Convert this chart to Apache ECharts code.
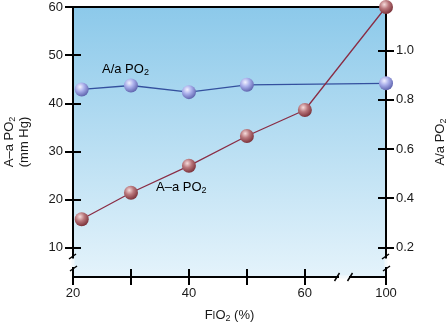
<!DOCTYPE html>
<html><head><meta charset="utf-8">
<script src="https://cdn.jsdelivr.net/npm/echarts@6/dist/echarts.min.js"></script>
<style>html,body{margin:0;padding:0;background:#fff}#c{width:447px;height:322px}</style>
</head><body><div id="c"></div>
<script>
// ---- data ----
const fio2Gradient = [21.5, 30, 40, 50, 60, 100];
const aaGradient = [15.9, 21.4, 27.0, 33.2, 38.6, 60];
const fio2Ratio = [21.5, 30, 40, 50, 100];
const aaRatio = [0.842, 0.858, 0.831, 0.861, 0.867];
const xTicks = [20, 30, 40, 50, 60, 100];
const xLabels = [20, 40, 60, 100];
const leftTicks = [10, 20, 30, 40, 50, 60];
const rightTicks = [0.2, 0.4, 0.6, 0.8, 1.0];

// broken x axis: values above 60 are compressed
const BREAK = 60, SQUEEZE = 0.35;
const toAxis = v => v <= BREAK ? v : BREAK + (v - BREAK) * SQUEEZE;
const fromAxis = a => a <= BREAK ? a : BREAK + (a - BREAK) / SQUEEZE;

const FONT = '"Liberation Sans", Arial, sans-serif';
const INK = '#1a1a1a';
const rich = {
  t: { fontSize: 13, fontFamily: FONT, color: INK, lineHeight: 15 },
  s: { fontSize: 9, fontFamily: FONT, color: INK, verticalAlign: 'bottom', lineHeight: 15 },
  i: { fontSize: 10, fontFamily: FONT, color: INK, verticalAlign: 'middle', lineHeight: 15, padding: [2, 0, 0, 0] }
};
const L = { left: 73, top: 7, right: 386, bottom: 277, W: 447, H: 322 };

const sphere = (hi, mid, lo) => ({
  type: 'radial', x: 0.38, y: 0.32, r: 0.7,
  colorStops: [{ offset: 0, color: hi }, { offset: 0.45, color: mid }, { offset: 1, color: lo }]
});
const line2 = { color: '#000', width: 2 };
const baseX = {
  type: 'value', min: 20, max: toAxis(100), position: 'bottom', z: 5,
  splitLine: { show: false }
};
const baseYL = { type: 'value', min: 3.9, max: 60, position: 'left', z: 5, splitLine: { show: false } };
const baseYR = { type: 'value', min: 0.08, max: 1.177, position: 'right', z: 5, splitLine: { show: false } };

const chart = echarts.init(document.getElementById('c'), null, { renderer: 'canvas' });
chart.setOption({
  animation: false,
  grid: {
    left: L.left, top: L.top, right: L.W - L.right, bottom: L.H - L.bottom,
    containLabel: false, outerBoundsMode: 'none',
    show: true, borderWidth: 0, z: 0,
    backgroundColor: { type: 'linear', x: 0, y: 0, x2: 0, y2: 1,
      colorStops: [{ offset: 0, color: '#8cc9ea' }, { offset: 1, color: '#e4f3fb' }] }
  },
  xAxis: [
    Object.assign({}, baseX, {
      axisLine: { lineStyle: line2 },
      axisTick: { customValues: xTicks.map(toAxis), length: 8, lineStyle: line2 },
      axisLabel: { customValues: xLabels.map(toAxis), margin: 10, fontSize: 13, fontFamily: FONT, color: INK,
        formatter: v => String(Math.round(fromAxis(v))) },
      name: '{t|F}{i|I}{t|O}{s|2}{t| (%)}', nameLocation: 'middle', nameGap: 31,
      nameTextStyle: { rich }
    }),
    Object.assign({}, baseX, {
      axisLine: { show: false },
      axisTick: { customValues: xTicks.map(toAxis), inside: true, length: 8, lineStyle: line2 },
      axisLabel: { show: false }
    }),
    Object.assign({}, baseX, {
      position: 'top',
      axisLine: { lineStyle: line2 }, axisTick: { show: false }, axisLabel: { show: false }
    })
  ],
  yAxis: [
    Object.assign({}, baseYL, {
      axisLine: { lineStyle: line2 },
      axisTick: { customValues: leftTicks, length: 8, lineStyle: line2 },
      axisLabel: { customValues: leftTicks, margin: 10, fontSize: 13, fontFamily: FONT, color: INK },
      name: '{t|A–a PO}{s|2}\n{t|(mm Hg)}', nameLocation: 'middle', nameRotate: 90, nameGap: 41,
      nameTextStyle: { rich, lineHeight: 15 }
    }),
    Object.assign({}, baseYR, {
      axisLine: { lineStyle: line2 },
      axisTick: { customValues: rightTicks, length: 8, lineStyle: line2 },
      axisLabel: { customValues: rightTicks, margin: 10, fontSize: 13, fontFamily: FONT, color: INK,
        formatter: v => v.toFixed(1) },
      name: '{t|A/a PO}{s|2}', nameLocation: 'middle', nameRotate: 90, nameGap: 47,
      nameTextStyle: { rich }
    }),
    Object.assign({}, baseYL, {
      axisLine: { show: false },
      axisTick: { customValues: leftTicks, inside: true, length: 8, lineStyle: line2 },
      axisLabel: { show: false }
    }),
    Object.assign({}, baseYR, {
      axisLine: { show: false },
      axisTick: { customValues: rightTicks, inside: true, length: 8, lineStyle: line2 },
      axisLabel: { show: false }
    })
  ],
  series: [
    {
      name: 'A/a PO2', type: 'line', xAxisIndex: 0, yAxisIndex: 1,
      data: fio2Ratio.map((x, i) => [toAxis(x), aaRatio[i]]),
      symbol: 'circle', symbolSize: 14, showSymbol: true,
      lineStyle: { color: '#34509e', width: 1.3 },
      itemStyle: { color: sphere('#f2f2ff', '#a9aeea', '#5e63ad'), borderWidth: 0 },
      z: 6
    },
    {
      name: 'A–a PO2', type: 'line', xAxisIndex: 0, yAxisIndex: 0,
      data: fio2Gradient.map((x, i) => [toAxis(x), aaGradient[i]]),
      symbol: 'circle', symbolSize: 14, showSymbol: true,
      lineStyle: { color: '#8a2d45', width: 1.3 },
      itemStyle: { color: sphere('#f6dcdc', '#b9777c', '#7a3038'), borderWidth: 0 },
      z: 7
    }
  ],
  graphic: [
    { type: 'text', left: 102, top: 63, z: 10, style: { text: '{t|A/a PO}{s|2}', rich } },
    { type: 'text', left: 156, top: 181, z: 10, style: { text: '{t|A–a PO}{s|2}', rich } },
    // axis break marks (left)
    { type: 'rect', z: 20, shape: { x: L.left - 1.5, y: 258.5, width: 3, height: 8.5 }, style: { fill: '#f3f9fc' } },
    { type: 'line', z: 21, shape: { x1: L.left - 4, y1: 259, x2: L.left + 3, y2: 254 }, style: { stroke: '#000', lineWidth: 1.5 } },
    { type: 'line', z: 21, shape: { x1: L.left - 3, y1: 271, x2: L.left + 4, y2: 266 }, style: { stroke: '#000', lineWidth: 1.5 } },
    // axis break marks (right)
    { type: 'rect', z: 20, shape: { x: L.right - 1.5, y: 258.5, width: 3, height: 8.5 }, style: { fill: '#f3f9fc' } },
    { type: 'line', z: 21, shape: { x1: L.right - 4, y1: 259, x2: L.right + 3, y2: 254 }, style: { stroke: '#000', lineWidth: 1.5 } },
    { type: 'line', z: 21, shape: { x1: L.right - 3, y1: 271, x2: L.right + 4, y2: 266 }, style: { stroke: '#000', lineWidth: 1.5 } },
    // axis break marks (bottom)
    { type: 'rect', z: 20, shape: { x: 339, y: L.bottom - 1.5, width: 10, height: 3 }, style: { fill: '#f3f9fc' } },
    { type: 'line', z: 21, shape: { x1: 334.5, y1: L.bottom + 4, x2: 339.5, y2: L.bottom - 4 }, style: { stroke: '#000', lineWidth: 1.5 } },
    { type: 'line', z: 21, shape: { x1: 347.5, y1: L.bottom + 4, x2: 352.5, y2: L.bottom - 4 }, style: { stroke: '#000', lineWidth: 1.5 } }
  ]
});
</script>
</body></html>
